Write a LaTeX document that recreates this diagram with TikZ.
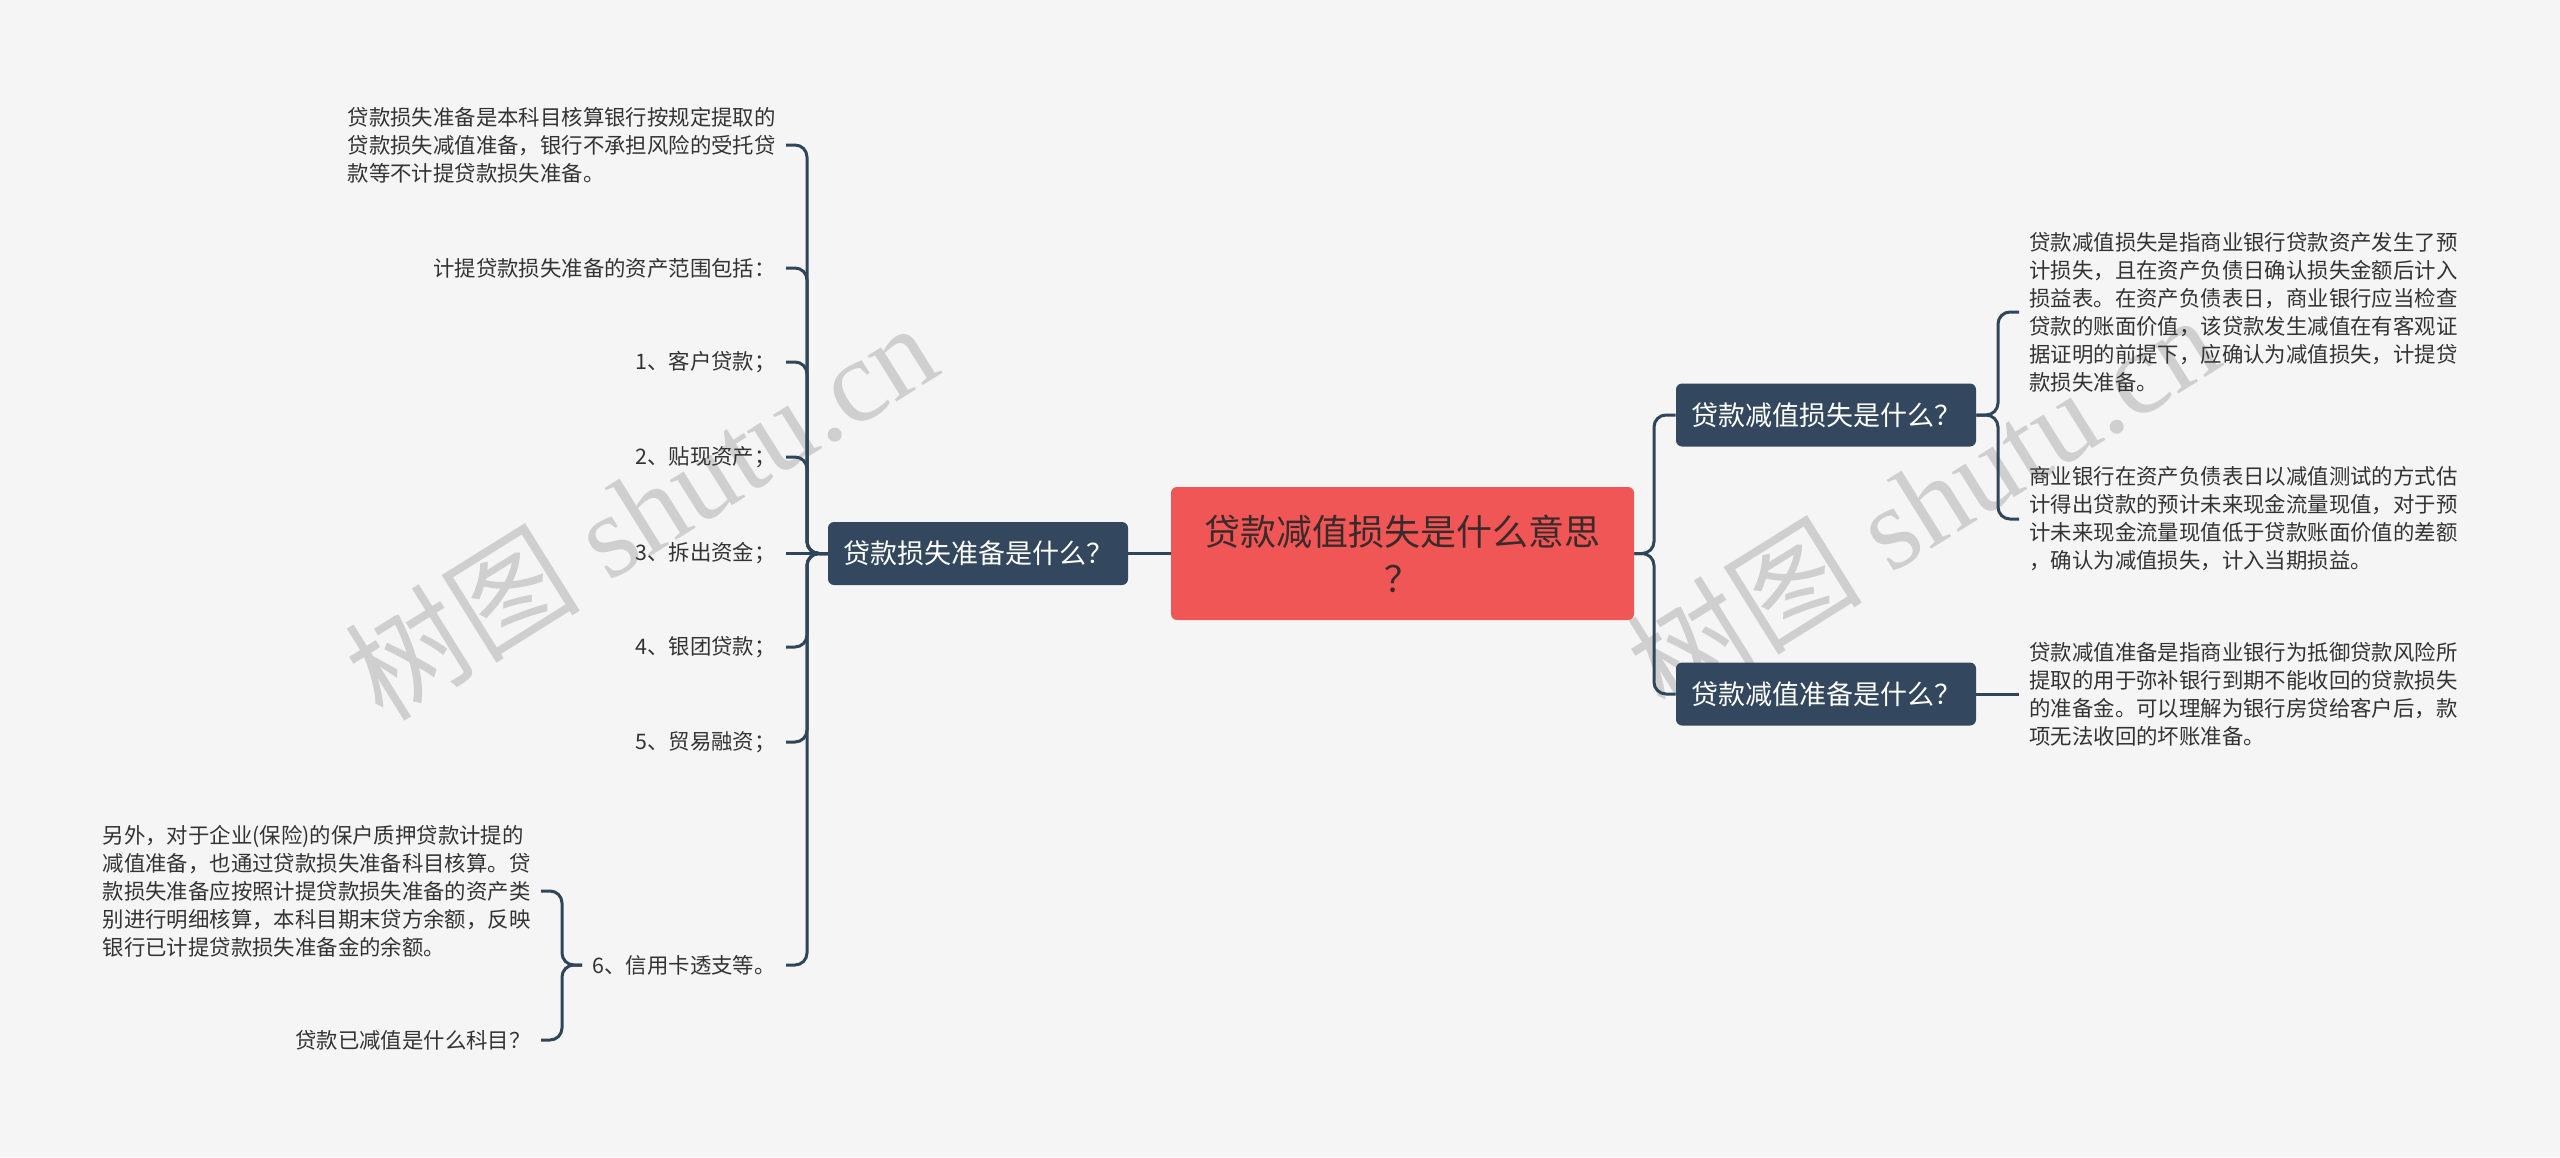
\documentclass[tikz,border=0pt]{standalone}
\usepackage{fontspec}
\setmainfont{Noto Sans CJK SC}
\newfontfamily\cjk{Noto Sans CJK SC}
\newfontfamily\wmserif{Liberation Serif}
\definecolor{bg}{HTML}{F5F5F5}
\definecolor{lc}{HTML}{2F4559}
\definecolor{nd}{HTML}{33485E}
\definecolor{rc}{HTML}{F05656}
\definecolor{ct}{HTML}{3A2A2A}
\definecolor{tc}{HTML}{333333}
\definecolor{wm}{HTML}{CFCFCF}
\tikzset{
  conn/.style={draw=lc, line width=1.5pt, rounded corners=6pt},
  topic/.style={fill=nd, rounded corners=3pt, text=white, font=\fontsize{13.5}{16}\selectfont,
    minimum width=150pt, minimum height=31.5pt, inner sep=0pt},
  leaf/.style={text=tc, font=\fontsize{10.7}{14}\selectfont, align=left, inner xsep=5pt, inner ysep=0pt},
  wmark/.style={text=wm, rotate=32, font=\fontsize{59}{60}\wmserif},
}
\begin{document}
\begin{tikzpicture}[x=0.5pt,y=-0.5pt]
\fill[bg] (0,0) rectangle (2560,1157);
\useasboundingbox (0,0) rectangle (2560,1157);

% watermarks
\node[wmark] (w1) at (640,510) {{\cjk 树图} shutu.cn};
\node[wmark] (w2) at (1922,502) {{\cjk 树图} shutu.cn};

% central
\node[fill=rc, rounded corners=3pt, minimum width=231.5pt, minimum height=66.5pt,
  font=\fontsize{18}{23.5}\selectfont, align=center, text=ct, inner sep=0pt] (c) at (1402.5,553.5)
  {贷款减值损失是什么意思\\？};

% main topics
\node[topic] (L) at (978,553.5) {贷款损失准备是什么？};
\node[topic] (R1) at (1826,415) {贷款减值损失是什么？};
\node[topic] (R2) at (1826,694) {贷款减值准备是什么？};

% left leaves
\node[leaf, anchor=east] (a1) at (786,145) {贷款损失准备是本科目核算银行按规定提取的\\贷款损失减值准备，银行不承担风险的受托贷\\款等不计提贷款损失准备。};
\node[leaf, anchor=east] (a2) at (786,268) {计提贷款损失准备的资产范围包括：};
\node[leaf, anchor=east] (a3) at (786,362) {1、客户贷款；};
\node[leaf, anchor=east] (a4) at (786,457) {2、贴现资产；};
\node[leaf, anchor=east] (a5) at (786,553.5) {3、拆出资金；};
\node[leaf, anchor=east] (a6) at (786,647) {4、银团贷款；};
\node[leaf, anchor=east] (a7) at (786,742) {5、贸易融资；};
\node[leaf, anchor=east] (a8) at (786,965) {6、信用卡透支等。};

% sub leaves of a8
\node[leaf, anchor=east] (d1) at (541,891) {另外，对于企业(保险)的保户质押贷款计提的\\减值准备，也通过贷款损失准备科目核算。贷\\款损失准备应按照计提贷款损失准备的资产类\\别进行明细核算，本科目期末贷方余额，反映\\银行已计提贷款损失准备金的余额。};
\node[leaf, anchor=east] (d2) at (541,1040) {贷款已减值是什么科目？};

% right leaves
\node[leaf, anchor=west] (b1) at (2019,312) {贷款减值损失是指商业银行贷款资产发生了预\\计损失，且在资产负债日确认损失金额后计入\\损益表。在资产负债表日，商业银行应当检查\\贷款的账面价值，该贷款发生减值在有客观证\\据证明的前提下，应确认为减值损失，计提贷\\款损失准备。};
\node[leaf, anchor=west] (b2) at (2019,519) {商业银行在资产负债表日以减值测试的方式估\\计得出贷款的预计未来现金流量现值，对于预\\计未来现金流量现值低于贷款账面价值的差额\\，确认为减值损失，计入当期损益。};
\node[leaf, anchor=west] (b3) at (2019,694) {贷款减值准备是指商业银行为抵御贷款风险所\\提取的用于弥补银行到期不能收回的贷款损失\\的准备金。可以理解为银行房贷给客户后，款\\项无法收回的坏账准备。};

% spine coordinates
\coordinate (spL) at (807,553.5);
\coordinate (spR) at (1654,553.5);
\coordinate (spR1) at (1998,415);
\coordinate (sp8) at (562,965);

% connectors
\draw[conn] (c.west) -- (L.east);
\draw[conn] (c.east) -- (spR) |- (R1.west);
\draw[conn] (c.east) -- (spR) |- (R2.west);
\foreach \n in {a1,a2,a3,a4,a6,a7,a8} {
  \draw[conn] (L.west) -- (spL) |- (\n.east);
}
\draw[conn] (L.west) -- (a5.east);
\draw[conn] (a8.west) -- (sp8) |- (d1.east);
\draw[conn] (a8.west) -- (sp8) |- (d2.east);
\draw[conn] (R1.east) -- (spR1) |- (b1.west);
\draw[conn] (R1.east) -- (spR1) |- (b2.west);
\draw[conn] (R2.east) -- (b3.west);
\end{tikzpicture}
\end{document}
